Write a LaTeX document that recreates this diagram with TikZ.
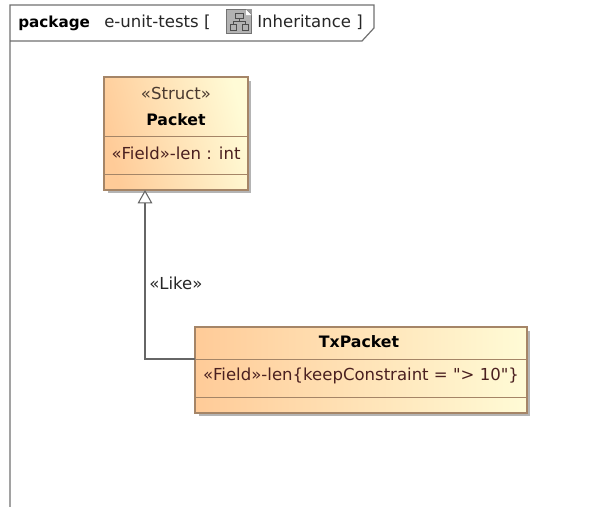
\documentclass[tikz,border=0pt]{standalone}
\usepackage{fontspec}
\setmainfont{DejaVu Sans}[Ligatures=TeXOff]
\usetikzlibrary{calc,arrows.meta}
\definecolor{fieldtxt}{HTML}{4A2020}
\definecolor{stereo}{HTML}{4A3A30}
\definecolor{umlborder}{HTML}{A58567}
\definecolor{umlorange}{HTML}{FFCB98}
\definecolor{umlcream}{HTML}{FFFBD6}
\definecolor{framecol}{HTML}{707070}
\definecolor{wirecol}{HTML}{666666}
\definecolor{shadowcol}{HTML}{B4B4B4}
\tikzset{
  x=0.75pt,y=-0.75pt,
  umlbox/.style={draw=umlborder,line width=0.9pt,left color=umlorange,right color=umlcream,inner sep=0pt,outer sep=0pt,anchor=north west},
  boxshadow/.style={fill=shadowcol,draw=none},
  slot/.style={inner sep=0pt,outer sep=0pt,anchor=north west},
  divider/.style={draw=umlborder,line width=0.7pt},
  txt/.style={inner sep=0pt,font=\fontsize{12.4pt}{14pt}\selectfont,text=black!85},
  nametxt/.style={inner sep=0pt,font=\fontsize{11.8pt}{14pt}\selectfont\bfseries,text=black},
  fieldlabel/.style={inner sep=0pt,font=\fontsize{12.4pt}{14pt}\selectfont,text=fieldtxt},
  stereolabel/.style={inner sep=0pt,font=\fontsize{12.4pt}{14pt}\selectfont,text=stereo},
  framewire/.style={draw=framecol,line width=0.9pt},
  likeline/.style={draw=wirecol,line width=0.85pt},
  liketip/.style={-{Triangle[open,fill=white,length=10pt,width=11pt,line width=0.8pt]}}
}
\begin{document}
\begin{tikzpicture}
\useasboundingbox (0,0) rectangle (594,507);
% frame
\draw[framewire] (10,507) -- (10,5) -- (374,5) -- (374,28) -- (362,41) -- (10,41);
\node[inner sep=0pt,anchor=base west,font=\fontsize{11.4pt}{14pt}\selectfont\bfseries] (kw) at (18,27) {package};
\node[txt,anchor=base west] (pkgname) at (104,27) {e-unit-tests [};
\node[txt,anchor=base west] (diagname) at (257,27) {Inheritance ]};
% icon
\fill[black!40] (226,9) rectangle (252,34);
\draw[black!55,line width=0.5pt,fill=black!30] (226.5,9.5) -- (246,9.5) -- (251.5,15) -- (251.5,33.5) -- (226.5,33.5) -- cycle;
\fill[white] (246,9.5) -- (251.5,15) -- (246,15) -- cycle;
\draw[black!70,line width=0.55pt] (235,13) rectangle (243,18) (239,18) -- (239,21) (233,24) -- (233,21) -- (245,21) -- (245,24) (230,24) rectangle (236,30) (242,24) rectangle (248,30);
% Packet shadow and box
\fill[boxshadow] (108,81) rectangle (251,193);
\node[umlbox,shading angle=105,minimum width=108pt,minimum height=84.75pt] (packet) at (104,77) {};
\node[slot,minimum width=108pt,minimum height=44.25pt] (packethead) at (104,77) {};
\node[slot,minimum width=108pt,minimum height=28.5pt] (packetattr) at (104,136) {};
\draw[divider] (packethead.south west) -- (packethead.south east);
\draw[divider] (packetattr.south west) -- (packetattr.south east);
\node[stereolabel] (packetst) at (176,93) {«Struct»};
\node[nametxt] (packetname) at (176,120) {Packet};
\node[fieldlabel] (packetfield) at (176,153) {«Field»-len : int};
% TxPacket shadow and box
\fill[boxshadow] (199,331) rectangle (530,416);
\node[umlbox,minimum width=249pt,minimum height=64.5pt] (tx) at (195,327) {};
\node[slot,minimum width=249pt,minimum height=24pt] (txhead) at (195,327) {};
\node[slot,minimum width=249pt,minimum height=28.5pt] (txattr) at (195,359) {};
\draw[divider] (txhead.south west) -- (txhead.south east);
\draw[divider] (txattr.south west) -- (txattr.south east);
\node[nametxt] (txname) at (359,342) {TxPacket};
\node[fieldlabel] (txfield) at (361,376) {«Field»-len\{keepConstraint = "> 10"\}};
% connector
\coordinate (liketarget) at ($(packet.south west)+(41,0)$);
\draw[likeline,liketip] (txhead.south west) -| (liketarget);
\node[txt,anchor=west] (likelabel) at (149,283) {«Like»};
\end{tikzpicture}
\end{document}
